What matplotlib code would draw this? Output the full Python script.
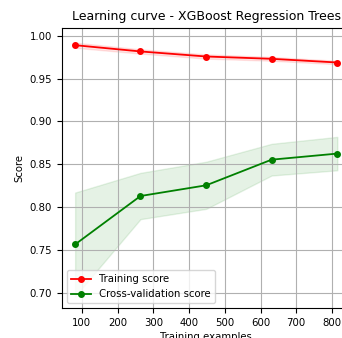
import numpy as np
from matplotlib import pyplot as plt

# learning curve values
train_sizes = np.array([81, 264, 448, 631, 815])
train_mean = np.array([0.989, 0.9817, 0.9758, 0.9731, 0.9688])
train_std = np.array([0.003, 0.0025, 0.0025, 0.0022, 0.002])
cv_mean = np.array([0.7565, 0.813, 0.8255, 0.8554, 0.8625])
cv_std = np.array([0.0605, 0.027, 0.0275, 0.0185, 0.0195])

plt.rcParams['font.size'] = 7.3
fig = plt.figure(figsize=(3.42, 3.38), dpi=100)
ax = fig.add_axes([0.181, 0.088, 0.844, 0.829])

ax.grid(True)
ax.fill_between(train_sizes, train_mean - train_std, train_mean + train_std,
                alpha=0.1, color="r")
ax.fill_between(train_sizes, cv_mean - cv_std, cv_mean + cv_std,
                alpha=0.1, color="g")
ax.plot(train_sizes, train_mean, 'o-', color="r", ms=4, lw=1.3, label="Training score")
ax.plot(train_sizes, cv_mean, 'o-', color="g", ms=4, lw=1.3, label="Cross-validation score")

ax.set_xlim(44, 852)
ax.set_ylim(0.682, 1.009)
ax.set_title("Learning curve - XGBoost Regression Trees", fontsize=9)
ax.set_xlabel("Training examples", labelpad=3)
ax.set_ylabel("Score")
ax.legend(loc="lower left")

fig.savefig("out.png", dpi=100)
